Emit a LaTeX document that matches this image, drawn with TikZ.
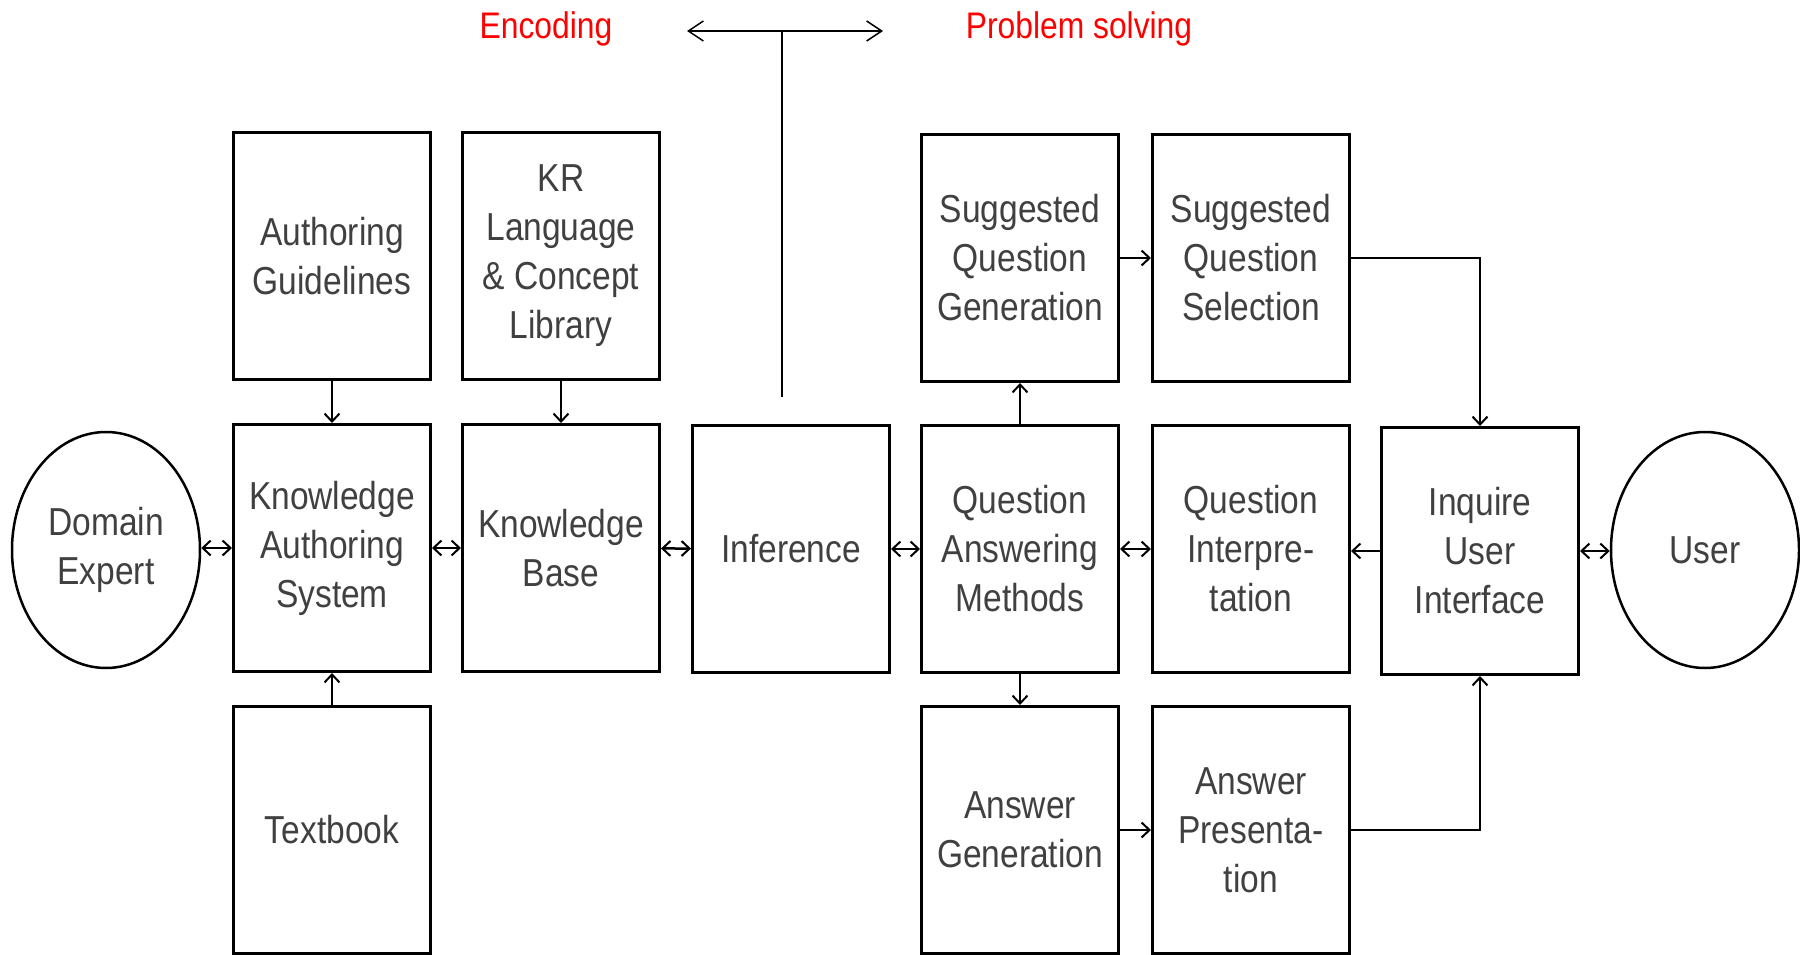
\documentclass[tikz,border=0pt]{standalone}
\usepackage{fontspec}
\setmainfont{Liberation Sans}[FakeStretch=0.86]
\usetikzlibrary{shapes.geometric,arrows.meta}
\definecolor{txtgray}{HTML}{404040}
\definecolor{headred}{HTML}{FF0000}
\begin{document}
\begin{tikzpicture}[x=1pt,y=-1pt,
  blk/.style={draw=black,line width=3pt,minimum width=197pt,minimum height=247pt,
    inner sep=0pt,align=center,text=txtgray,font=\fontsize{39}{49}\selectfont},
  actor/.style={draw=black,line width=2.5pt,ellipse,minimum width=188pt,minimum height=236pt,
    inner sep=0pt,align=center,text=txtgray,font=\fontsize{39}{49}\selectfont},
  conn/.style={line width=2.5pt,-{Straight Barb[length=8pt,width=15pt,line width=2pt]}},
  biconn/.style={line width=2.5pt,{Straight Barb[length=8pt,width=15pt,line width=2pt]}-{Straight Barb[length=8pt,width=15pt,line width=2pt]}},
  phase/.style={text=headred,font=\fontsize{37}{44}\selectfont,inner sep=0pt}]
\useasboundingbox (0,0) rectangle (1800,955);

% phase labels and divider
\node[phase] (enc) at (546,29) {Encoding};
\node[phase] (ps) at (1079,29) {Problem solving};
\coordinate (divtop) at (782,31);
\coordinate (divbot) at (782,397);
\coordinate (divl) at (687,31);
\coordinate (divr) at (883,31);
\draw[line width=1.5pt] (divbot) -- (divtop);
\draw[line width=1.5pt,{Straight Barb[length=15pt,width=20pt]}-{Straight Barb[length=15pt,width=20pt]}] (divl) -- (divr);

% encoding side
\node[actor] (de) at (106,550) {Domain\\Expert};
\node[blk] (ag) at (332,256) {Authoring\\Guidelines};
\node[blk] (kr) at (561,256) {KR\\Language\\\& Concept\\Library};
\node[blk] (kas) at (332,548) {Knowledge\\Authoring\\System};
\node[blk] (kb) at (561,548) {Knowledge\\Base};
\node[blk] (inf) at (791,549) {Inference};
\node[blk] (tb) at (332,830) {Textbook};

% problem-solving side
\node[blk] (sqg) at (1020,258) {Suggested\\Question\\Generation};
\node[blk] (sqs) at (1251,258) {Suggested\\Question\\Selection};
\node[blk] (qam) at (1020,549) {Question\\Answering\\Methods};
\node[blk] (qi) at (1251,549) {Question\\Interpre-\\tation};
\node[blk] (iui) at (1480,551) {Inquire\\User\\Interface};
\node[actor] (user) at (1705,550) {User};
\node[blk] (agen) at (1020,830) {Answer\\Generation};
\node[blk] (apres) at (1251,830) {Answer\\Presenta-\\tion};

% connectors
\draw[biconn] (de.east |- kas.west) -- (kas.west);
\draw[biconn] (kas) -- (kb);
\draw[biconn] (kb) -- (inf);
\draw[biconn] (inf) -- (qam);
\draw[biconn] (qam) -- (qi);
\draw[conn] (iui.west) -- (qi.east |- iui.west);
\draw[biconn] (iui.east) -- (user.west |- iui.east);
\draw[conn] (ag) -- (kas);
\draw[conn] (kr) -- (kb);
\draw[conn] (tb) -- (kas);
\draw[conn] (qam) -- (sqg);
\draw[conn] (qam) -- (agen);
\draw[conn] (sqg) -- (sqs);
\draw[conn] (agen) -- (apres);
\draw[conn] (sqs.east) -| (iui.north);
\draw[conn] (apres.east) -| (iui.south);
\end{tikzpicture}
\end{document}
